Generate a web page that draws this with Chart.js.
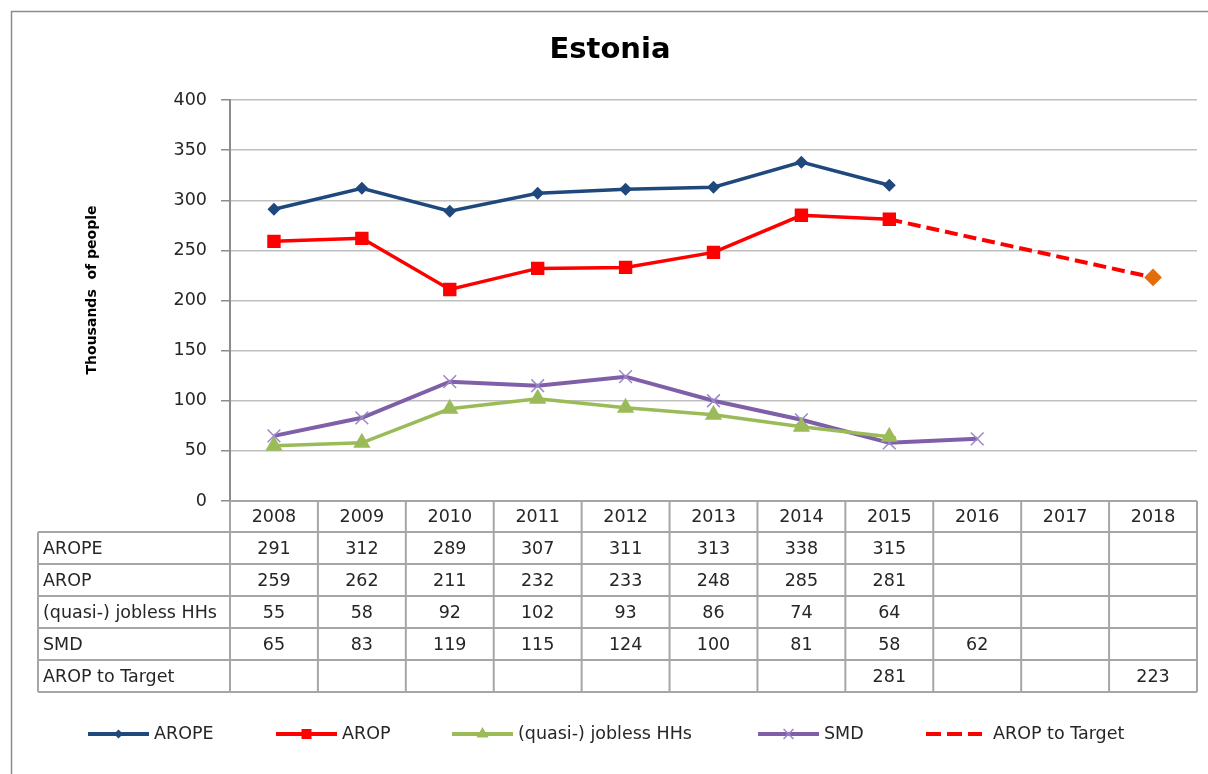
<!DOCTYPE html>
<html>
<head>
<meta charset="utf-8">
<script src="https://cdn.jsdelivr.net/npm/chart.js@4/dist/chart.umd.min.js"></script>
<style>
  body { margin: 0; background: #fff; }
  #wrap { width: 1208px; height: 774px; position: relative; }
</style>
</head>
<body>
<div id="wrap"><canvas id="chart"></canvas></div>
<script>
const years = ['2008', '2009', '2010', '2011', '2012', '2013', '2014', '2015', '2016', '2017', '2018'];
const arope = [291, 312, 289, 307, 311, 313, 338, 315, null, null, null];
const arop = [259, 262, 211, 232, 233, 248, 285, 281, null, null, null];
const jobless = [55, 58, 92, 102, 93, 86, 74, 64, null, null, null];
const smd = [65, 83, 119, 115, 124, 100, 81, 58, 62, null, null];
const aropTarget = [null, null, null, null, null, null, null, 281, null, null, 223];
const yTicks = [0, 50, 100, 150, 200, 250, 300, 350, 400];

const FONT = '"DejaVu Sans", Verdana, sans-serif';
const TEXT = '#262626';
const LINE_GRAY = '#a6a6a6';

// legend entries, drawn by hand to look like the Excel legend
const legendItems = [
    { label: 'AROPE', color: '#1f497d', style: 'rectRot', r: 3.5, x: 88, len: 61, gap: 5 },
    { label: 'AROP', color: '#ff0000', style: 'rect', r: 6, x: 276, len: 61, gap: 5 },
    { label: '(quasi-) jobless HHs', color: '#9bbb59', style: 'triangle', r: 5.5, x: 452, len: 61, gap: 5 },
    { label: 'SMD', color: '#7f60a8', style: 'crossRot', r: 7, x: 758, len: 61, gap: 5, markColor: '#9d86c8' },
    { label: 'AROP to Target', color: '#ff0000', dash: true, x: 926, len: 56, gap: 11 }
];

const tableRows = [
    { label: 'AROPE', values: arope },
    { label: 'AROP', values: arop },
    { label: '(quasi-) jobless HHs', values: jobless },
    { label: 'SMD', values: smd },
    { label: 'AROP to Target', values: aropTarget }
];

const decorPlugin = {
    id: 'decor',
    beforeDraw: (chart) => {
        const ctx = chart.ctx;
        ctx.save();
        // outer frame
        ctx.strokeStyle = '#8c8c8c';
        ctx.lineWidth = 1.5;
        ctx.beginPath();
        ctx.moveTo(11.5, 780);
        ctx.lineTo(11.5, 11.5);
        ctx.lineTo(1210, 11.5);
        ctx.stroke();
        ctx.restore();
    },
    afterDraw: (chart) => {
        const ctx = chart.ctx;
        const area = chart.chartArea;
        const x = chart.scales.x;
        const colW = (area.right - area.left) / years.length;
        ctx.save();

        // title
        ctx.fillStyle = '#000';
        ctx.font = 'bold 29px ' + FONT;
        ctx.textAlign = 'center';
        ctx.textBaseline = 'middle';
        ctx.fillText('Estonia', 610, 50);

        // y axis title
        ctx.save();
        ctx.translate(92, 290);
        ctx.rotate(-Math.PI / 2);
        ctx.font = 'bold 14px ' + FONT;
        ctx.fillText('Thousands  of people', 0, 0);
        ctx.restore();

        // data table
        const top = area.bottom;
        const headH = 31;
        const rowH = 32;
        const tableLeft = 38;
        const bottom = top + headH + rowH * tableRows.length;
        ctx.strokeStyle = LINE_GRAY;
        ctx.lineWidth = 2;
        ctx.beginPath();
        // header top = x axis line
        ctx.moveTo(area.left, top);
        ctx.lineTo(area.right, top);
        for (let r = 0; r <= tableRows.length; r++) {
            const y = top + headH + r * rowH;
            ctx.moveTo(tableLeft, y);
            ctx.lineTo(area.right, y);
        }
        ctx.moveTo(tableLeft, top + headH);
        ctx.lineTo(tableLeft, bottom);
        for (let i = 0; i <= years.length; i++) {
            const cx = i < years.length ? x.getPixelForValue(i) - colW / 2 : x.getPixelForValue(years.length - 1) + colW / 2;
            ctx.moveTo(cx, top);
            ctx.lineTo(cx, bottom);
        }
        ctx.stroke();

        ctx.fillStyle = TEXT;
        ctx.font = '17.5px ' + FONT;
        ctx.textBaseline = 'middle';
        ctx.textAlign = 'center';
        years.forEach((yr, i) => ctx.fillText(yr, x.getPixelForValue(i), top + headH / 2 + 1));
        tableRows.forEach((row, r) => {
            const cy = top + headH + r * rowH + rowH / 2 + 1;
            ctx.textAlign = 'left';
            ctx.fillText(row.label, 43, cy);
            ctx.textAlign = 'center';
            row.values.forEach((v, i) => {
                if (v !== null) ctx.fillText(String(v), x.getPixelForValue(i), cy);
            });
        });

        // legend
        const ly = 734;
        legendItems.forEach(item => {
            ctx.strokeStyle = item.color;
            ctx.lineWidth = 4;
            ctx.setLineDash(item.dash ? [15, 6] : []);
            ctx.beginPath();
            ctx.moveTo(item.x, ly);
            ctx.lineTo(item.x + item.len, ly);
            ctx.stroke();
            ctx.setLineDash([]);
            if (item.style) {
                const mc = item.markColor || item.color;
                ctx.fillStyle = mc;
                ctx.strokeStyle = mc;
                ctx.lineWidth = 1.5;
                Chart.helpers.drawPoint(ctx, { pointStyle: item.style, radius: item.r, borderWidth: 1.5 }, item.x + item.len / 2, ly);
            }
            ctx.fillStyle = TEXT;
            ctx.font = '17.5px ' + FONT;
            ctx.textAlign = 'left';
            ctx.fillText(item.label, item.x + item.len + item.gap, ly);
        });
        ctx.restore();
    }
};

const pointRadiusTarget = aropTarget.map((v, i) => (i === aropTarget.length - 1 ? 6 : 0));

new Chart(document.getElementById('chart'), {
    type: 'line',
    data: {
        labels: years,
        datasets: [
            { label: 'AROPE', data: arope, borderColor: '#1f497d', backgroundColor: '#1f497d', borderWidth: 3.5, pointStyle: 'rectRot', pointRadius: 4, tension: 0 },
            { label: 'AROP', data: arop, borderColor: '#ff0000', backgroundColor: '#ff0000', borderWidth: 3.5, pointStyle: 'rect', pointRadius: 7, tension: 0 },
            { label: '(quasi-) jobless HHs', data: jobless, borderColor: '#9bbb59', backgroundColor: '#9bbb59', borderWidth: 3.5, pointStyle: 'triangle', pointRadius: 6.5, tension: 0 },
            { label: 'SMD', data: smd, borderColor: '#7f60a8', backgroundColor: '#9d86c8', pointBorderColor: '#9d86c8', borderWidth: 4, pointBorderWidth: 1.5, pointStyle: 'crossRot', pointRadius: 9, tension: 0 },
            { label: 'AROP to Target', data: aropTarget, spanGaps: true, borderColor: '#ff0000', borderDash: [13, 6], borderWidth: 4, pointStyle: 'rectRot', pointRadius: pointRadiusTarget, backgroundColor: '#e46c0a', pointBorderColor: '#e46c0a', tension: 0 }
        ]
    },
    options: {
        responsive: true,
        maintainAspectRatio: false,
        animation: false,
        layout: { padding: { left: 11, top: 100, right: 11, bottom: 273 } },
        plugins: {
            legend: { display: false },
            tooltip: { enabled: false }
        },
        scales: {
            x: { display: false, offset: true },
            y: {
                min: 0,
                max: 400,
                afterBuildTicks: (scale) => { scale.ticks = yTicks.map(v => ({ value: v })); },
                afterFit: (scale) => { scale.width = 219; },
                grid: { color: '#bfbfbf', lineWidth: 1.5, tickLength: 9, tickColor: '#8c8c8c' },
                border: { color: '#8c8c8c', width: 2 },
                ticks: { color: TEXT, padding: 14, font: { family: FONT, size: 17.5 } }
            }
        }
    },
    plugins: [decorPlugin]
});
</script>
</body>
</html>
